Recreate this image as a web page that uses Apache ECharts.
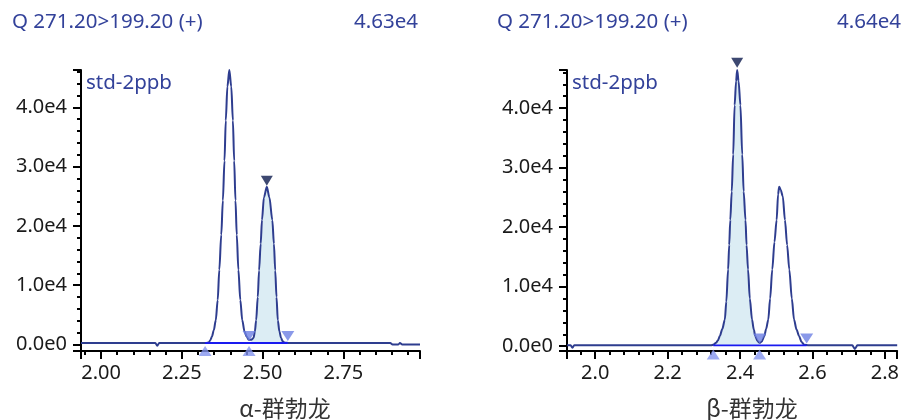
<!DOCTYPE html>
<html>
<head>
<meta charset="utf-8">
<script src="https://cdn.jsdelivr.net/npm/echarts@6/dist/echarts.min.js"></script>
<style>
  html, body { margin: 0; padding: 0; background: #fff; }
  #main { width: 902px; height: 420px; }
</style>
</head>
<body>
<div id="main"></div>
<script>
// 色谱数据 (保留时间 min, 强度)
var leftTrace = [
  [1.938, 250], [2.168, 250], [2.174, -200], [2.180, 250],
  [2.325, 250], [2.333, 350], [2.338, 700], [2.343, 1300], [2.349, 2400], [2.355, 4100],
  [2.361, 7500], [2.366, 12600], [2.372, 18500], [2.377, 24300], [2.382, 31000], [2.386, 37800],
  [2.391, 43500], [2.397, 46300], [2.403, 43500], [2.408, 37800], [2.412, 31000], [2.416, 24300],
  [2.420, 18500], [2.425, 12600], [2.431, 7500], [2.437, 4100], [2.444, 2200], [2.451, 1300],
  [2.457, 800], [2.465, 800], [2.472, 1100], [2.476, 2200], [2.480, 4100], [2.485, 8000],
  [2.489, 12500], [2.494, 17000], [2.498, 21000], [2.504, 24800], [2.513, 26600], [2.521, 24800],
  [2.530, 21000], [2.535, 17000], [2.539, 12500], [2.543, 8000], [2.547, 4100], [2.552, 2200],
  [2.557, 1100], [2.562, 550], [2.568, 300], [2.580, 250], [2.895, 250], [2.902, 0],
  [2.920, 0], [2.925, 250], [2.932, 0], [2.987, 0]
];
var rightTrace = [
  [1.922, 150], [1.932, 150], [1.937, -250], [1.942, 150],
  [2.320, 150], [2.326, 250], [2.334, 600], [2.339, 1000], [2.344, 1700], [2.351, 2900],
  [2.358, 4500], [2.362, 7500], [2.367, 12900], [2.370, 17000], [2.373, 21200], [2.377, 26000],
  [2.381, 32200], [2.385, 40500], [2.389, 44500], [2.392, 46400], [2.396, 44500], [2.401, 40500],
  [2.406, 32200], [2.410, 26000], [2.415, 21200], [2.418, 17000], [2.422, 12900], [2.427, 8000],
  [2.433, 4500], [2.438, 2800], [2.442, 1700], [2.448, 900], [2.454, 570], [2.460, 800],
  [2.467, 1700], [2.472, 2900], [2.478, 4500], [2.483, 8000], [2.489, 12900], [2.495, 17500],
  [2.501, 21200], [2.505, 25500], [2.508, 26800], [2.512, 26300], [2.518, 25200], [2.524, 21200],
  [2.530, 17000], [2.536, 12900], [2.543, 8000], [2.549, 4500], [2.556, 2800], [2.563, 1700],
  [2.570, 700], [2.577, 250], [2.590, 150], [2.710, 150], [2.717, -450], [2.724, 150], [2.834, 150]
];

// 选中峰填充: 起点, 终点, 基线
var leftPeak = [2.458, 2.578, 250];
var rightPeak = [2.326, 2.454, 150];
// 积分基线: 起点, 终点, 高度
var leftBaseline = [2.322, 2.578, 250];
var rightBaseline = [2.326, 2.584, 150];
// 积分标记
var leftUpMarks = [[2.322, -1100], [2.458, -1100]];
var leftDownMarks = [[2.458, 1430], [2.578, 1430]];
var leftTopMark = [[2.513, 27600]];
var rightUpMarks = [[2.326, -1390], [2.454, -1390]];
var rightDownMarks = [[2.454, 1290], [2.584, 1290]];
var rightTopMark = [[2.392, 47600]];

var titles = ['Q 271.20>199.20 (+)', 'Q 271.20>199.20 (+)'];
var maxLabels = ['4.63e4', '4.64e4'];
var sampleName = 'std-2ppb';
var compounds = ['α-群勃龙', 'β-群勃龙'];

var font = '"Noto Sans", "DejaVu Sans", sans-serif';
var textBlue = '#33429a';
var traceColor = '#2e3d8f';

function inRange(trace, peak) {
  return trace.filter(function (p) { return p[0] >= peak[0] && p[0] <= peak[1]; });
}

function xAxisOf(idx, min, max, step, digits) {
  return {
    gridIndex: idx, type: 'value', min: min, max: max,
    minInterval: step, maxInterval: step,
    axisLine: { onZero: false, lineStyle: { color: '#000', width: 2 } },
    axisTick: { length: 8, lineStyle: { color: '#000', width: 2 } },
    minorTick: { show: true, splitNumber: 5, length: 4, lineStyle: { color: '#000', width: 2 } },
    axisLabel: {
      showMinLabel: false, showMaxLabel: false, margin: 12,
      fontSize: 20, color: '#1a1a1a', fontFamily: font,
      formatter: function (v) { return v.toFixed(digits); }
    },
    splitLine: { show: false }
  };
}

function yAxisOf(idx, min, max) {
  return {
    gridIndex: idx, type: 'value', min: min, max: max,
    minInterval: 10000, maxInterval: 10000,
    axisLine: { show: true, lineStyle: { color: '#000', width: 2 } },
    axisTick: { show: true, length: 8, lineStyle: { color: '#000', width: 2 } },
    minorTick: { show: true, splitNumber: 5, length: 4, lineStyle: { color: '#000', width: 2 } },
    axisLabel: {
      showMinLabel: false, showMaxLabel: false, margin: 14,
      fontSize: 20, color: '#1a1a1a', fontFamily: font,
      formatter: function (v) { return v === 0 ? '0.0e0' : (v / 10000).toFixed(1) + 'e4'; }
    },
    splitLine: { show: false }
  };
}

function panelSeries(idx, trace, peak, base, upMarks, downMarks, topMark) {
  return [
    {
      type: 'line', xAxisIndex: idx, yAxisIndex: idx,
      data: inRange(trace, peak), showSymbol: false, smooth: 0.3, smoothMonotone: 'x',
      lineStyle: { width: 0 },
      areaStyle: { color: '#dcedf4', opacity: 1, origin: peak[2] },
      silent: true, z: 1
    },
    {
      type: 'line', xAxisIndex: idx, yAxisIndex: idx,
      data: trace, showSymbol: false, smooth: 0.3, smoothMonotone: 'x',
      lineStyle: { color: traceColor, width: 2 }, z: 2
    },
    {
      type: 'line', xAxisIndex: idx, yAxisIndex: idx,
      data: [[base[0], base[2]], [base[1], base[2]]], showSymbol: false,
      lineStyle: { color: '#1a1aef', width: 1.8 }, z: 3
    },
    {
      type: 'scatter', xAxisIndex: idx, yAxisIndex: idx, clip: false,
      data: upMarks, symbol: 'triangle', symbolSize: [13, 10],
      itemStyle: { color: '#8394ee' }, z: 4
    },
    {
      type: 'scatter', xAxisIndex: idx, yAxisIndex: idx, clip: false,
      data: downMarks, symbol: 'triangle', symbolRotate: 180, symbolSize: [13, 10],
      itemStyle: { color: '#6d7fe3' }, z: 4
    },
    {
      type: 'scatter', xAxisIndex: idx, yAxisIndex: idx, clip: false,
      data: topMark, symbol: 'triangle', symbolRotate: 180, symbolSize: [12, 10],
      itemStyle: { color: '#0c1a4e' }, z: 4
    }
  ];
}

function label(text, x, y, align, size, color, family) {
  return {
    type: 'text', x: x, y: y, silent: true,
    style: {
      text: text, fill: color, font: size + 'px ' + family,
      align: align, verticalAlign: 'middle',
      textAlign: align, textVerticalAlign: 'middle'
    }
  };
}

var myChart = echarts.init(document.getElementById('main'));
var option = {
  animation: false,
  backgroundColor: '#fff',
  grid: [
    { left: 81, top: 70, width: 339, height: 281 },
    { left: 567, top: 70, width: 334, height: 281 }
  ],
  xAxis: [
    xAxisOf(0, 1.938, 2.987, 0.25, 2),
    xAxisOf(1, 1.922, 2.834, 0.2, 1)
  ],
  yAxis: [
    yAxisOf(0, -1100, 46300),
    yAxisOf(1, -800, 46400)
  ],
  graphic: [
    label(titles[0], 12, 22, 'left', 20.5, textBlue, font),
    label(maxLabels[0], 418, 22, 'right', 20.5, textBlue, font),
    label(titles[1], 497, 22, 'left', 20.5, textBlue, font),
    label(maxLabels[1], 901, 22, 'right', 20.5, textBlue, font),
    label(sampleName, 86, 83, 'left', 20.5, textBlue, font),
    label(sampleName, 572, 83, 'left', 20.5, textBlue, font),
    label(compounds[0], 285, 408, 'center', 23, '#333', '"Noto Sans CJK SC", sans-serif'),
    label(compounds[1], 752, 408, 'center', 23, '#333', '"Noto Sans CJK SC", sans-serif')
  ],
  series: [].concat(
    panelSeries(0, leftTrace, leftPeak, leftBaseline, leftUpMarks, leftDownMarks, leftTopMark),
    panelSeries(1, rightTrace, rightPeak, rightBaseline, rightUpMarks, rightDownMarks, rightTopMark)
  )
};
option && myChart.setOption(option);
</script>
</body>
</html>
